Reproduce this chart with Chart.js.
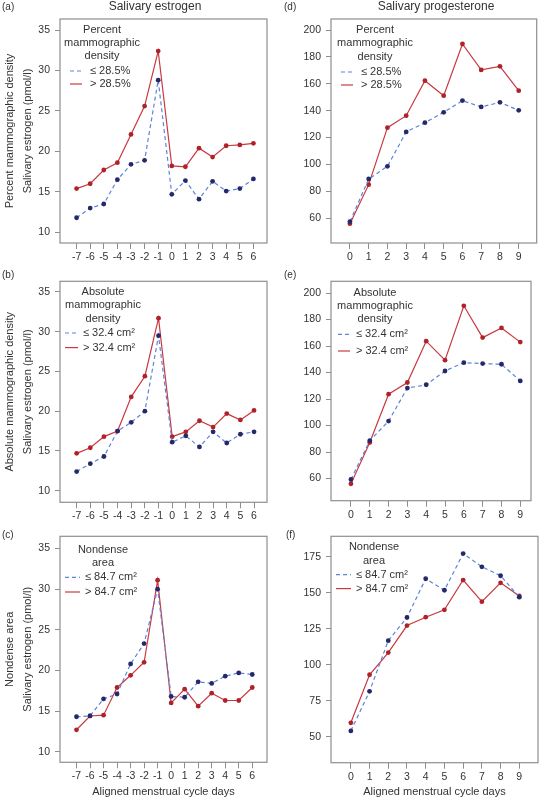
<!DOCTYPE html>
<html>
<head>
<meta charset="utf-8">
<script src="https://cdn.jsdelivr.net/npm/chart.js@4.4.0/dist/chart.umd.min.js"></script>
<style>
  body { margin: 0; background: #fff; width: 542px; height: 799px; position: relative; overflow: hidden; }
  canvas { position: absolute; }
</style>
</head>
<body>
<canvas id="pa" width="271" height="270" style="left:0;top:0"></canvas>
<canvas id="pb" width="271" height="255" style="left:0;top:270px"></canvas>
<canvas id="pc" width="271" height="274" style="left:0;top:525px"></canvas>
<canvas id="pd" width="271" height="270" style="left:271px;top:0"></canvas>
<canvas id="pe" width="271" height="255" style="left:271px;top:270px"></canvas>
<canvas id="pf" width="271" height="274" style="left:271px;top:525px"></canvas>
<script>
// x values (aligned cycle days)
const estrogenDays = [-7, -6, -5, -4, -3, -2, -1, 0, 1, 2, 3, 4, 5, 6];
const progesteroneDays = [0, 1, 2, 3, 4, 5, 6, 7, 8, 9];

// tick labels
const estrogenTicks = [10, 15, 20, 25, 30, 35];
const progTicks = [60, 80, 100, 120, 140, 160, 180, 200];
const progTicksNd = [50, 75, 100, 125, 150, 175];

// salivary estrogen (pmol/l)
const estPctLow = [11.8, 13.0, 13.5, 16.5, 18.4, 18.9, 28.8, 14.7, 16.4, 14.1, 16.3, 15.1, 15.4, 16.6];
const estPctHigh = [15.4, 16.0, 17.7, 18.6, 22.1, 25.6, 32.4, 18.2, 18.1, 20.4, 19.3, 20.7, 20.8, 21.0];
const estAbsLow = [12.4, 13.4, 14.3, 17.5, 18.6, 20.0, 29.5, 16.1, 16.9, 15.5, 17.4, 16.0, 17.1, 17.4];
const estAbsHigh = [14.7, 15.4, 16.8, 17.5, 21.8, 24.4, 31.7, 16.8, 17.4, 18.8, 18.0, 19.7, 18.9, 20.1];
const estNdLow = [14.3, 14.4, 16.5, 17.1, 20.8, 23.3, 30.0, 16.8, 16.7, 18.6, 18.4, 19.3, 19.7, 19.5];
const estNdHigh = [12.7, 14.4, 14.5, 17.9, 19.4, 21.0, 31.1, 16.0, 17.7, 15.6, 17.2, 16.3, 16.3, 17.9];

// salivary progesterone
const progPctLow = [57.5, 89.2, 98.6, 124.2, 131.1, 138.8, 147.5, 142.8, 146.2, 140.3];
const progPctHigh = [56.0, 85.0, 127.4, 136.3, 162.3, 151.2, 189.6, 170.3, 173.0, 154.9];
const progAbsLow = [59.3, 88.6, 103.4, 128.3, 130.8, 141.2, 147.5, 146.8, 146.3, 133.7];
const progAbsHigh = [56.0, 87.2, 123.7, 132.5, 163.7, 149.4, 190.4, 166.4, 173.7, 163.0];
const progNdLow = [54.1, 81.6, 116.8, 132.9, 159.8, 151.8, 177.3, 168.1, 161.9, 147.0];
const progNdHigh = [59.7, 93.1, 108.5, 127.3, 133.1, 138.2, 158.9, 143.9, 157.0, 147.9];

// legend texts
const pctTitle = ['Percent', 'mammographic', 'density'];
const absTitle = ['Absolute', 'mammographic', 'density'];
const ndTitle = ['Nondense', 'area'];
const pctLabels = ['\u2264 28.5%', '> 28.5%'];
const absLabels = ['\u2264 32.4 cm\u00B2', '> 32.4 cm\u00B2'];
const ndLabels = ['\u2264 84.7 cm\u00B2', '> 84.7 cm\u00B2'];

const FONT = '"Liberation Sans", Arial, sans-serif';
const TEXT = '#333';
const FRAME = '#8e8e8e';
const RED_LINE = '#c8393f', RED_PT = '#b0222a';
const BLUE_LINE = '#5d84d8', BLUE_PT = '#25286a';

const pts = (xs, ys) => xs.map((x, i) => ({ x: x, y: ys[i] }));

function makePanel(p) {
  // box, panel letter, heading and the legend inside the plot
  const decor = {
    id: 'decor',
    afterDraw(chart) {
      const ctx = chart.ctx, a = chart.chartArea;
      ctx.save();
      ctx.strokeStyle = FRAME;
      ctx.lineWidth = 1.2;
      ctx.strokeRect(a.left, a.top, a.right - a.left, a.bottom - a.top);

      ctx.fillStyle = TEXT;
      ctx.textBaseline = 'middle';
      ctx.font = '10px ' + FONT;
      ctx.textAlign = 'left';
      ctx.fillText(p.letter, p.letterX, p.letterY);
      if (p.heading) {
        ctx.font = '12px ' + FONT;
        ctx.textAlign = 'center';
        ctx.fillText(p.heading, p.headingX, 7);
      }

      const L = p.leg;
      ctx.font = '11px ' + FONT;
      ctx.textAlign = 'center';
      p.legTitle.forEach((t, i) => ctx.fillText(t, a.left + L.cx, a.top + L.ty + i * 13.4));
      chart.data.datasets.forEach((ds, i) => {
        const y = a.top + L.iy[i];
        ctx.strokeStyle = ds.borderColor;
        ctx.lineWidth = 1.2;
        ctx.setLineDash(ds.borderDash || []);
        ctx.beginPath();
        ctx.moveTo(a.left + L.x0, y);
        ctx.lineTo(a.left + L.x1, y);
        ctx.stroke();
        ctx.setLineDash([]);
        ctx.textAlign = 'left';
        ctx.fillText(ds.label, a.left + L.tx, y);
      });
      ctx.restore();
    }
  };

  const tickFont = { family: FONT, size: 10.5 };
  const xScale = {
    type: 'linear', min: p.xr[0], max: p.xr[1],
    afterBuildTicks: s => { s.ticks = p.days.map(v => ({ value: v })); },
    afterFit: s => { s.height = p.xh; },
    ticks: { color: TEXT, font: tickFont, padding: 2, autoSkip: false, maxRotation: 0, callback: v => String(v) },
    grid: { drawOnChartArea: false, drawTicks: true, tickLength: 6, color: FRAME, lineWidth: 1 },
    border: { display: false }
  };
  if (p.xTitle) {
    xScale.title = { display: true, text: p.xTitle, color: TEXT, font: { family: FONT, size: 11, lineHeight: 1.2 }, padding: { top: 0, bottom: 0 } };
  }
  const yScale = {
    min: p.yr[0], max: p.yr[1],
    afterBuildTicks: s => { s.ticks = p.yTicks.map(v => ({ value: v })); },
    afterFit: s => { s.width = 60; },
    ticks: { color: TEXT, font: tickFont, padding: 5, callback: v => String(v) },
    grid: { drawOnChartArea: false, drawTicks: true, tickLength: 5, color: FRAME, lineWidth: 1 },
    border: { display: false }
  };
  if (p.yTitle) {
    yScale.title = { display: true, text: p.yTitle, color: TEXT, font: { family: FONT, size: 11, lineHeight: 1.6 }, padding: { top: 1.2, bottom: 0 } };
  }

  new Chart(document.getElementById(p.id), {
    type: 'line',
    data: {
      datasets: [
        { label: p.labels[0], data: pts(p.days, p.low), borderColor: BLUE_LINE, borderDash: [4, 3], borderWidth: 1.2,
          pointRadius: 2.4, pointBackgroundColor: BLUE_PT, pointBorderWidth: 0, tension: 0 },
        { label: p.labels[1], data: pts(p.days, p.high), borderColor: RED_LINE, borderWidth: 1.2,
          pointRadius: 2.4, pointBackgroundColor: RED_PT, pointBorderWidth: 0, tension: 0 }
      ]
    },
    options: {
      responsive: false,
      animation: false,
      layout: { padding: { top: p.padTop, right: p.padRight, left: 0, bottom: 0 } },
      plugins: { legend: { display: false }, tooltip: { enabled: false } },
      scales: { x: xScale, y: yScale }
    },
    plugins: [decor]
  });
}

makePanel({ id: 'pa', letter: '(a)', letterX: 2, letterY: 7, heading: 'Salivary estrogen', headingX: 155,
  days: estrogenDays, low: estPctLow, high: estPctHigh, labels: pctLabels, legTitle: pctTitle,
  xr: [-8.22, 7.0], yr: [8.68, 36.36], yTicks: estrogenTicks, padTop: 19, padRight: 3, xh: 27,
  yTitle: ['Percent mammographic density', 'Salivary estrogen (pmol/l)'],
  leg: { cx: 42, ty: 10.5, iy: [52, 65], x0: 10, x1: 22, tx: 30 } });

makePanel({ id: 'pb', letter: '(b)', letterX: 2, letterY: 5,
  days: estrogenDays, low: estAbsLow, high: estAbsHigh, labels: absLabels, legTitle: absTitle,
  xr: [-8.22, 6.95], yr: [8.54, 36.34], yTicks: estrogenTicks, padTop: 11, padRight: 4, xh: 22.7,
  yTitle: ['Absolute mammographic density', 'Salivary estrogen (pmol/l)'],
  leg: { cx: 43, ty: 10.7, iy: [51.7, 66.3], x0: 5, x1: 18, tx: 23 } });

makePanel({ id: 'pc', letter: '(c)', letterX: 2, letterY: 10,
  days: estrogenDays, low: estNdLow, high: estNdHigh, labels: ndLabels, legTitle: ndTitle,
  xr: [-8.22, 7.09], yr: [8.7, 36.5], yTicks: estrogenTicks, padTop: 10, padRight: 1, xh: 36.7,
  yTitle: ['Nondense area', 'Salivary estrogen (pmol/l)'], xTitle: 'Aligned menstrual cycle days',
  leg: { cx: 43, ty: 13.3, iy: [41, 55.7], x0: 5, x1: 20, tx: 25 } });

makePanel({ id: 'pd', letter: '(d)', letterX: 13, letterY: 7, heading: 'Salivary progesterone', headingX: 165,
  days: progesteroneDays, low: progPctLow, high: progPctHigh, labels: pctLabels, legTitle: pctTitle,
  xr: [-1.01, 9.96], yr: [41.6, 208.2], yTicks: progTicks, padTop: 19, padRight: 5.3, xh: 27,
  leg: { cx: 44, ty: 11, iy: [53, 66], x0: 10, x1: 22, tx: 30 } });

makePanel({ id: 'pe', letter: '(e)', letterX: 13, letterY: 5,
  days: progesteroneDays, low: progAbsLow, high: progAbsHigh, labels: absLabels, legTitle: absTitle,
  xr: [-1.06, 9.57], yr: [43.3, 208.9], yTicks: progTicks, padTop: 2.7, padRight: 11, xh: 24.3,
  leg: { cx: 44, ty: 11.3, iy: [53, 69.7], x0: 7, x1: 19, tx: 25 } });

makePanel({ id: 'pf', letter: '(f)', letterX: 15, letterY: 10,
  days: progesteroneDays, low: progNdLow, high: progNdHigh, labels: ndLabels, legTitle: ndTitle,
  xr: [-1.06, 10.0], yr: [32, 189.3], yTicks: progTicksNd, padTop: 10, padRight: 2.7, xh: 36.3,
  xTitle: 'Aligned menstrual cycle days',
  leg: { cx: 43, ty: 11, iy: [38.3, 52.3], x0: 5, x1: 20, tx: 25 } });
</script>
</body>
</html>
